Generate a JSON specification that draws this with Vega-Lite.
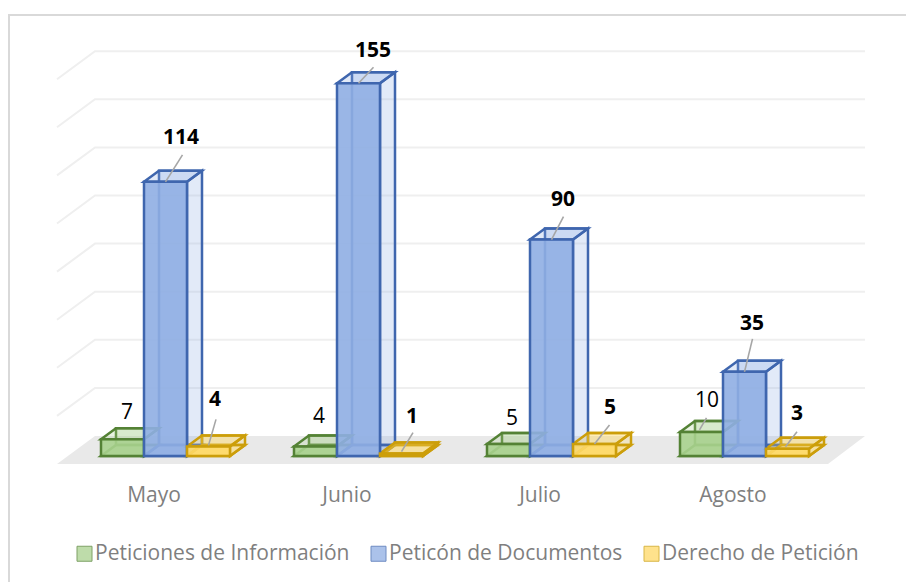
{
"$schema":"https://vega.github.io/schema/vega-lite/v6.json",
"width":899,"height":569,
"padding":{"left":9,"top":15,"right":-2,"bottom":-2},
"autosize":{"type":"none"},
"background":"white",
"config":{"view":{"stroke":"#d9d9d9","strokeWidth":2},"font":"Open Sans"},
"data":{"values":[
{"month":"Mayo","series":"Peticiones de Información","value":7},
{"month":"Mayo","series":"Peticón de Documentos","value":114},
{"month":"Mayo","series":"Derecho de Petición","value":4},
{"month":"Junio","series":"Peticiones de Información","value":4},
{"month":"Junio","series":"Peticón de Documentos","value":155},
{"month":"Junio","series":"Derecho de Petición","value":1},
{"month":"Julio","series":"Peticiones de Información","value":5},
{"month":"Julio","series":"Peticón de Documentos","value":90},
{"month":"Julio","series":"Derecho de Petición","value":5},
{"month":"Agosto","series":"Peticiones de Información","value":10},
{"month":"Agosto","series":"Peticón de Documentos","value":35},
{"month":"Agosto","series":"Derecho de Petición","value":3}
]},
"layer":[
{"data":{"values":[{"level":0}]},
 "mark":{"type":"point","shape":"M-108.5 8L-70.5 -20L699.5 -20L662.5 8Z","size":4,"filled":true,"fill":"#e9e9e9","stroke":null,"opacity":1},
 "encoding":{
  "x":{"datum":"Mayo","type":"nominal","scale":{"domain":["Mayo","Junio","Julio","Agosto"],"range":[60,832],"paddingInner":0.3316,"paddingOuter":0.1658},
   "axis":{"title":null,"domain":false,"ticks":false,"grid":false,"labelAngle":0,"labelOffset":-11.5,"labelPadding":0,"offset":-100,"labelFontSize":21,"labelColor":"#7f7f7f","labelFont":"Open Sans","labelBaseline":"top"}},
  "y":{"field":"level","type":"quantitative","scale":{"domain":[0,160],"range":[441,56.2],"nice":false,"zero":false},"axis":null}
 }},
{"data":{"values":[{"level":20},{"level":40},{"level":60},{"level":80},{"level":100},{"level":120},{"level":140},{"level":160}]},
 "mark":{"type":"point","shape":"M-108.5 8L-70.5 -20L699.5 -20","size":4,"filled":false,"fill":null,"stroke":"#efefef","strokeWidth":2,"opacity":1},
 "encoding":{
  "x":{"datum":"Mayo","type":"nominal"},
  "y":{"field":"level","type":"quantitative"}
 }},
{"transform":[{"calculate":"datum.month + indexof(['Peticiones de Información','Peticón de Documentos','Derecho de Petición'],datum.series)","as":"key"}],
 "encoding":{
  "x":{"field":"month","type":"nominal","sort":["Mayo","Junio","Julio","Agosto"]},
  "xOffset":{"field":"series","type":"nominal","sort":["Peticiones de Información","Peticón de Documentos","Derecho de Petición"],"scale":{"paddingInner":0,"paddingOuter":0}},
  "y":{"field":"value","type":"quantitative"},
  "stroke":{"field":"series","type":"nominal","legend":null,"scale":{"domain":["Peticiones de Información","Peticón de Documentos","Derecho de Petición"],"range":["#548235","#3F66AE","#CC9E0A"]}},
  "fill":{"field":"series","type":"nominal",
   "scale":{"domain":["Peticiones de Información","Peticón de Documentos","Derecho de Petición"],"range":["#A9D18E","#8FAEE3","#FFD966"]},
   "legend":{"title":null,"orient":"none","legendX":65,"legendY":528,"direction":"horizontal","columns":3,"symbolType":"square","symbolSize":225,"symbolOpacity":0.75,"symbolStrokeWidth":1,"labelFontSize":21,"labelFont":"Open Sans","labelColor":"#7f7f7f","labelOffset":0,"columnPadding":18,"labelLimit":400}}
 },
 "layer":[
 {"mark":{"type":"point","size":4,"filled":true,"strokeWidth":2.5,"opacity":1,"fillOpacity":0.26,
   "shape":{"expr":"'M-6.5 -11L36.5 -11L36.5 '+(-11-(scale('y',0)-scale('y',datum.value)))+'L-6.5 '+(-11-(scale('y',0)-scale('y',datum.value)))+'Z M21.5 0L36.5 -11L36.5 '+(-11-(scale('y',0)-scale('y',datum.value)))+'L21.5 '+(-(scale('y',0)-scale('y',datum.value)))+'Z'"}},
  "encoding":{"y":{"datum":0,"type":"quantitative"}}},
 {"mark":{"type":"point","shape":"M-21.5 0L21.5 0L36.5 -11L-6.5 -11Z","size":4,"filled":true,"strokeWidth":2.5,"opacity":1,"fillOpacity":0.4},
  "encoding":{"y":{"datum":0,"type":"quantitative"}}},
 {"mark":{"type":"point","shape":"M-21.5 0L21.5 0L36.5 -11L-6.5 -11Z","size":4,"filled":true,"strokeWidth":2.5,"opacity":1,"fillOpacity":0.26}},
 {"mark":{"type":"bar","strokeWidth":2.5,"fillOpacity":0.9}},
 {"mark":{"type":"point","size":4,"filled":false,"strokeWidth":1.6,"opacity":1},
  "encoding":{"fill":{"value":null},"stroke":{"value":"#a6a6a6"},
   "shape":{"field":"key","type":"nominal","legend":null,"scale":{
    "domain":["Mayo0","Junio0","Julio0","Agosto0","Mayo1","Junio1","Julio1","Agosto1","Mayo2","Junio2","Julio2","Agosto2"],
    "range":["M0 0","M0 0","M0 0","M-2 -2L5 -14","M0 0L17 -27","M0 0L15 -16","M0 0L12 -23","M0 0L8 -33","M0 -1L7.5 -27","M0 -2L11.5 -21","M0 0L15 -19","M-2 -2L9.5 -17"]}}}},
 {"mark":{"type":"text","font":"Open Sans","fontSize":21,"baseline":"middle","align":"center",
   "fontWeight":{"expr":"datum.series=='Peticiones de Información'?'normal':'bold'"},
   "dx":{"expr":"{Mayo0:4.5,Junio0:3.5,Julio0:3.5,Agosto0:5.5,Mayo1:15.5,Junio1:14.5,Julio1:11.5,Agosto1:7.5,Mayo2:6.5,Junio2:10.5,Julio2:15.5,Agosto2:9.5}[datum.key]"},
   "dy":{"expr":"{Mayo0:-26,Junio0:-29,Julio0:-25,Agosto0:-31,Mayo1:-44,Junio1:-32,Julio1:-40,Agosto1:-48,Mayo2:-46,Junio2:-37,Julio2:-36,Agosto2:-35}[datum.key]"}},
  "encoding":{"text":{"field":"value","type":"quantitative"},"stroke":{"value":null},"fill":{"value":"#000000"}}}
 ]}
]
}
